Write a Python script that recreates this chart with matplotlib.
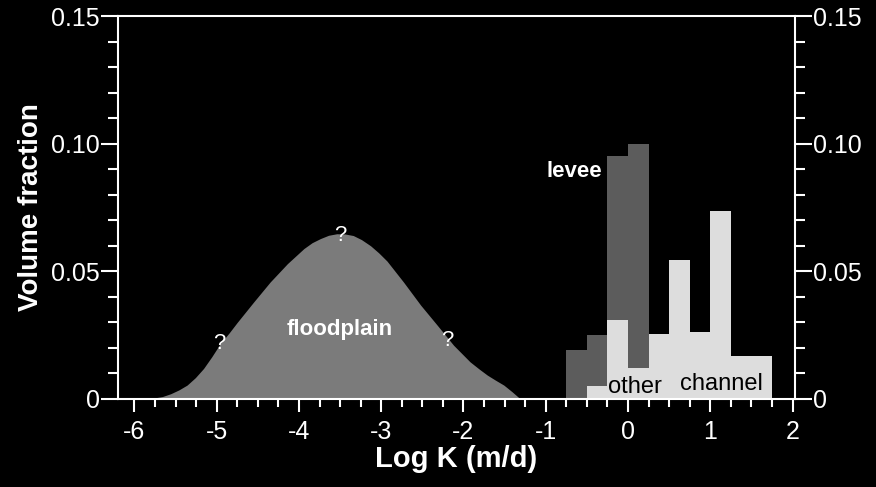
import numpy as np
import matplotlib.pyplot as plt
from matplotlib.ticker import MultipleLocator

# floodplain curve (log K, volume fraction)
flood_x = [-5.95, -5.77, -5.66, -5.56, -5.46, -5.36, -5.26, -5.16, -5.06, -4.96,
           -4.85, -4.75, -4.55, -4.35, -4.14, -3.94, -3.84, -3.74, -3.64, -3.54,
           -3.44, -3.34, -3.24, -3.13, -3.03, -2.93, -2.73, -2.52, -2.32, -2.12,
           -1.92, -1.81, -1.71, -1.61, -1.51, -1.41, -1.31]
flood_y = [0.0, 0.0003, 0.0009, 0.002, 0.0035, 0.0054, 0.0083, 0.0119, 0.0165, 0.0215,
           0.0258, 0.030, 0.038, 0.0458, 0.053, 0.0589, 0.0612, 0.0628, 0.0641, 0.0647,
           0.0646, 0.064, 0.0624, 0.060, 0.0572, 0.054, 0.0458, 0.0367, 0.0289, 0.021,
           0.0145, 0.0117, 0.0093, 0.0073, 0.0054, 0.0028, 0.0]

# histogram bins (left edges, width 0.25)
bin_left = [-0.75, -0.5, -0.25, 0.0, 0.25, 0.5, 0.75, 1.0, 1.25, 1.5]
levee = [0.019, 0.025, 0.095, 0.100, 0, 0, 0, 0, 0, 0]
other_channel = [0.0, 0.005, 0.031, 0.012, 0.0255, 0.0546, 0.0261, 0.0736, 0.0169, 0.0169]

x_ticks = [-6, -5, -4, -3, -2, -1, 0, 1, 2]
y_ticks = [0, 0.05, 0.10, 0.15]
y_labels = ["0", "0.05", "0.10", "0.15"]

plt.rcParams['font.family'] = ['Liberation Sans', 'DejaVu Sans']

fig = plt.figure(figsize=(8.76, 4.87), dpi=100, facecolor='black')
ax = fig.add_axes([0.1347, 0.181, 0.7728, 0.786], facecolor='black')

ax.fill_between(flood_x, flood_y, 0, color='#7b7b7b', linewidth=0)
ax.bar(bin_left, levee, width=0.25, align='edge', color='#5c5c5c', linewidth=0)
ax.bar(bin_left, other_channel, width=0.25, align='edge', color='#dddddd', linewidth=0)

# labels on the chart
ax.text(-3.5, 0.027, "floodplain", color='white', fontsize=16, fontweight='bold',
        ha='center', va='center')
ax.text(-0.65, 0.089, "levee", color='white', fontsize=16, fontweight='bold',
        ha='center', va='center')
ax.text(0.08, 0.0045, "other", color='black', fontsize=17, ha='center', va='center')
ax.text(1.13, 0.0058, "channel", color='black', fontsize=17, ha='center', va='center')
for qx, qy in [(-4.97, 0.0215), (-3.5, 0.064), (-2.2, 0.023)]:
    ax.text(qx, qy, "?", color='white', fontsize=16, ha='center', va='center')

ax.set_xlim(-6.2, 2.03)
ax.set_ylim(0, 0.15)
ax.set_xticks(x_ticks)
ax.set_xticklabels([str(v) for v in x_ticks])
ax.xaxis.set_minor_locator(MultipleLocator(0.25))
ax.set_yticks(y_ticks)
ax.set_yticklabels(y_labels)
ax.yaxis.set_minor_locator(MultipleLocator(0.01))

ax.tick_params(axis='both', which='both', colors='white', labelcolor='white',
               direction='out', width=1.5)
ax.tick_params(axis='x', which='major', length=9, labelsize=18, pad=6)
ax.tick_params(axis='x', which='minor', length=5.5)
ax.tick_params(axis='y', which='major', length=12, labelsize=18, pad=1,
               right=True, labelright=True)
ax.tick_params(axis='y', which='minor', length=7.5, right=True)

for s in ax.spines.values():
    s.set_color('white')
    s.set_linewidth(1.5)

ax.set_xlabel("Log K (m/d)", color='white', fontsize=21, fontweight='bold',
              labelpad=1)
ax.set_ylabel("Volume fraction", color='white', fontsize=20, fontweight='bold',
              labelpad=5)

fig.savefig("out.png", dpi=100, facecolor='black')
